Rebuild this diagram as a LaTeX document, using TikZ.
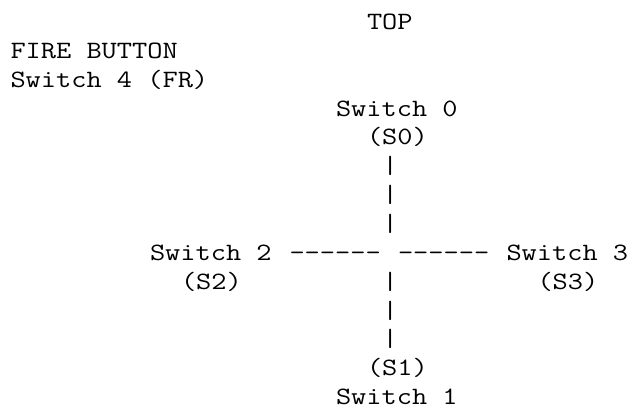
\documentclass[tikz,border=0pt]{standalone}
\usepackage{fontspec}
\setmonofont{Latin Modern Mono}[FakeStretch=1.186]
\begin{document}
\begin{tikzpicture}[x=15.5pt, y=-28.85pt,
    txt/.style={anchor=base west, inner sep=0pt, outer sep=0pt,
                font=\ttfamily\fontsize{24.9}{29}\selectfont}]
\useasboundingbox (-10.5pt, 29.5pt) rectangle (623.5pt, -382.5pt);

\node[txt] (top) at (23, 0) {TOP};
\node[txt] (fire) at (0, 1) {FIRE BUTTON};
\node[txt] (sw4) at (0, 2) {Switch 4 (FR)};

\node[txt] (sw0) at (21, 3) {Switch 0};
\node[txt] (s0) at (23, 4) {(S0)};
\foreach \r in {5, 6, 7} \node[txt] (up\r) at (24, \r) {|};

\node[txt] (sw2) at (9, 8) {Switch 2};
\node[txt] (dashl) at (18, 8) {------};
\node[txt] (dashr) at (25, 8) {------};
\node[txt] (sw3) at (32, 8) {Switch 3};

\node[txt] (s2) at (11, 9) {(S2)};
\node[txt] (s3) at (34, 9) {(S3)};
\foreach \r in {9, 10, 11} \node[txt] (dn\r) at (24, \r) {|};

\node[txt] (s1) at (23, 12) {(S1)};
\node[txt] (sw1) at (21, 13) {Switch 1};
\end{tikzpicture}
\end{document}
